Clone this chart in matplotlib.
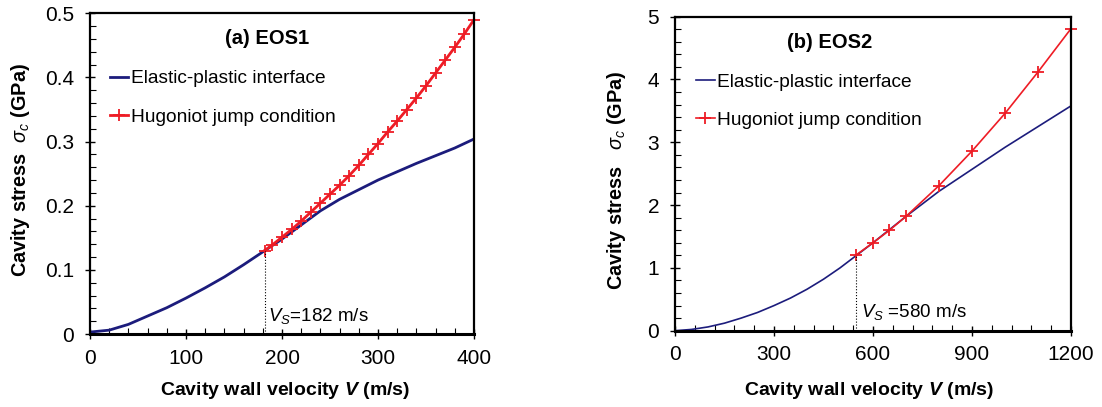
import matplotlib
matplotlib.use("Agg")
import matplotlib.pyplot as plt
from matplotlib.ticker import MultipleLocator

plt.rcParams["font.family"] = ["Liberation Sans", "DejaVu Sans"]
plt.rcParams["mathtext.fontset"] = "custom"
plt.rcParams["mathtext.rm"] = "Liberation Sans"
plt.rcParams["mathtext.it"] = "Liberation Sans:italic"
plt.rcParams["mathtext.bf"] = "Liberation Sans:bold"
plt.rcParams["mathtext.bfit"] = "Liberation Sans:bold:italic"

NAVY = "#1c1c7c"
RED = "#ee1c25"

# -----------------------------
# Data: (a) EOS1
# -----------------------------
eos1_v_elastic = [0, 20, 40, 60, 80, 100, 120, 140, 160, 182, 200, 220, 240,
                  260, 280, 300, 320, 340, 360, 380, 400]
eos1_s_elastic = [0.003, 0.006, 0.015, 0.028, 0.041, 0.056, 0.072, 0.089, 0.108,
                  0.130, 0.148, 0.170, 0.192, 0.210, 0.225, 0.240, 0.253, 0.266,
                  0.278, 0.290, 0.304]
eos1_v_hug = [182, 190, 200, 210, 220, 230, 240, 250, 260, 270, 280, 290, 300,
              310, 320, 330, 340, 350, 360, 370, 380, 390, 400]
eos1_s_hug = [0.130, 0.139, 0.151, 0.163, 0.176, 0.190, 0.204, 0.218, 0.232,
              0.247, 0.263, 0.280, 0.297, 0.315, 0.332, 0.350, 0.368, 0.387,
              0.407, 0.427, 0.447, 0.468, 0.490]
eos1_vs = 182
eos1_vs_stress = 0.130

# -----------------------------
# Data: (b) EOS2
# -----------------------------
eos2_v_elastic = [0, 50, 100, 150, 200, 250, 300, 350, 400, 450, 500, 550, 600,
                  650, 700, 800, 900, 1000, 1100, 1200]
eos2_s_elastic = [0.0, 0.02, 0.06, 0.12, 0.20, 0.29, 0.40, 0.52, 0.66, 0.82,
                  1.00, 1.20, 1.40, 1.61, 1.82, 2.22, 2.57, 2.92, 3.25, 3.58]
eos2_v_hug = [550, 600, 650, 700, 800, 900, 1000, 1100, 1200]
eos2_s_hug = [1.21, 1.40, 1.60, 1.82, 2.31, 2.86, 3.46, 4.12, 4.81]
eos2_vs = 550
eos2_vs_stress = 1.21


def style_axes(ax, xmax, xmajor, xminor, ymax, ymajor, yminor):
    ax.set_xlim(0, xmax)
    ax.set_ylim(0, ymax)
    ax.xaxis.set_major_locator(MultipleLocator(xmajor))
    ax.xaxis.set_minor_locator(MultipleLocator(xminor))
    ax.yaxis.set_major_locator(MultipleLocator(ymajor))
    ax.yaxis.set_minor_locator(MultipleLocator(yminor))
    ax.tick_params(which="major", direction="inout", length=7, width=1,
                   labelsize=15)
    ax.tick_params(axis="y", which="major", pad=8)
    ax.tick_params(axis="x", which="major", pad=7)
    ax.tick_params(which="minor", direction="in", length=4, width=0.8)
    for sp in ax.spines.values():
        sp.set_linewidth(1.6)
        sp.set_color("black")
    ax.spines["bottom"].set_linewidth(2.2)


def add_legend(ax, x, y):
    ax.legend(loc="upper left", bbox_to_anchor=(x, y), frameon=False,
              fontsize=13.8, handlelength=0.95, handletextpad=0.15,
              labelspacing=1.08, borderpad=0, borderaxespad=0)


fig = plt.figure(figsize=(11.02, 4.07), dpi=100)
ax1 = fig.add_axes([0.08167, 0.17936, 0.34846, 0.78796])
ax2 = fig.add_axes([0.61252, 0.18747, 0.35935, 0.77150])

# Panel (a)
ax1.plot(eos1_v_elastic, eos1_s_elastic, color=NAVY, lw=2,
         label="Elastic-plastic interface")
ax1.plot(eos1_v_hug, eos1_s_hug, color=RED, lw=2, marker="+", ms=8, mew=1.3,
         label="Hugoniot jump condition", clip_on=False)
ax1.plot([eos1_vs, eos1_vs], [0, eos1_vs_stress], color="black", lw=0.8, ls=":")
style_axes(ax1, 400, 100, 20, 0.5, 0.1, 0.02)
ax1.yaxis.set_major_formatter(plt.FuncFormatter(lambda v, p: "0" if v == 0 else f"{v:.1f}"))
ax1.text(185, 0.028, r"$V_S$=182 m/s", fontsize=13.5, ha="left", va="center")
ax1.text(0.46, 0.92, "(a) EOS1", transform=ax1.transAxes, fontsize=14.5,
         fontweight="bold", ha="center", va="center")
add_legend(ax1, 0.052, 0.823)
ax1.set_xlabel(r"Cavity wall velocity $\mathbfit{V}$ (m/s)", fontsize=14,
               fontweight="bold", va="center")
ax1.xaxis.set_label_coords(0.508, -0.175)
ax1.set_ylabel(r"Cavity stress  $\sigma_c$ (GPa)", fontsize=14.3,
               fontweight="bold", va="center")
ax1.yaxis.set_label_coords(-0.182, 0.511)

# Panel (b)
ax2.plot(eos2_v_elastic, eos2_s_elastic, color=NAVY, lw=1.2,
         label="Elastic-plastic interface")
ax2.plot(eos2_v_hug, eos2_s_hug, color=RED, lw=1.2, marker="+", ms=8, mew=1.3,
         label="Hugoniot jump condition", clip_on=False)
ax2.plot([eos2_vs, eos2_vs], [0, eos2_vs_stress], color="black", lw=0.8, ls=":")
style_axes(ax2, 1200, 300, 60, 5, 1, 0.2)
ax2.text(564, 0.30, r"$V_S$ =580 m/s", fontsize=13.5, ha="left", va="center")
ax2.text(0.39, 0.917, "(b) EOS2", transform=ax2.transAxes, fontsize=14.5,
         fontweight="bold", ha="center", va="center")
add_legend(ax2, 0.054, 0.82)
ax2.set_xlabel(r"Cavity wall velocity $\mathbfit{V}$ (m/s)", fontsize=14,
               fontweight="bold", va="center")
ax2.xaxis.set_label_coords(0.491, -0.189)
ax2.set_ylabel(r"Cavity stress   $\sigma_c$ (GPa)", fontsize=14.3,
               fontweight="bold", va="center")
ax2.yaxis.set_label_coords(-0.147, 0.48)

fig.savefig("out.png", dpi=100)
